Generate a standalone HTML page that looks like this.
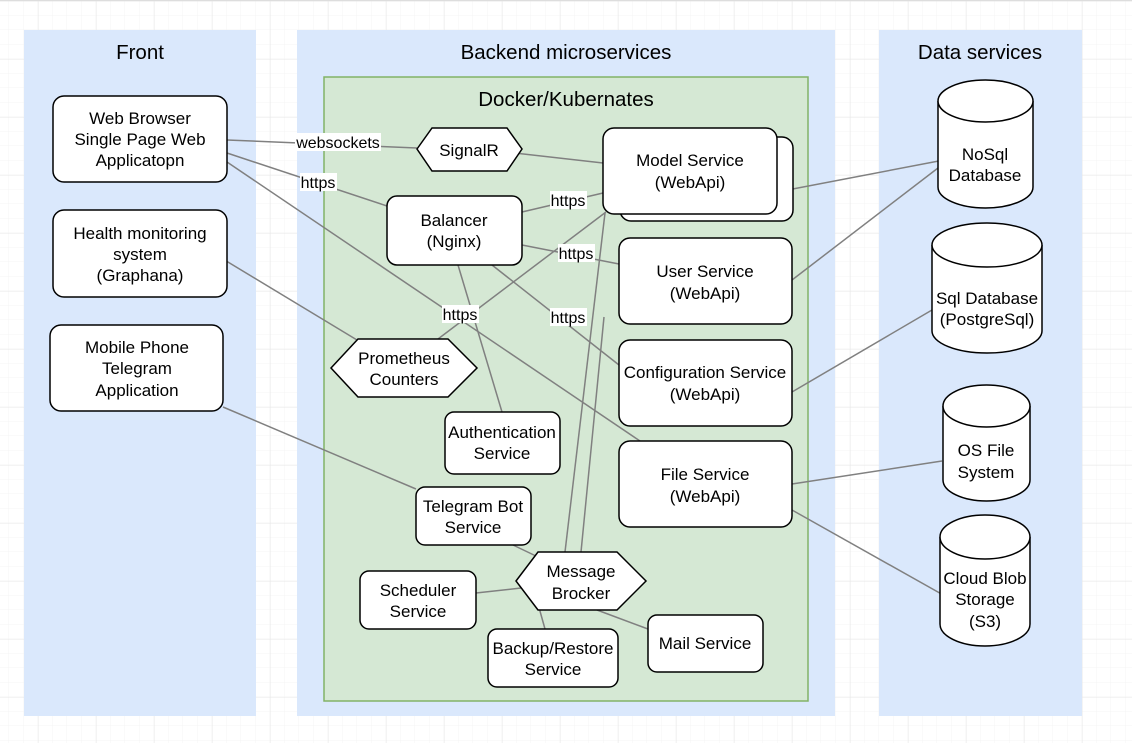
<!DOCTYPE html>
<html><head><meta charset="utf-8"><style>
html,body{margin:0;padding:0;background:#fff;}
svg{display:block;font-family:"Liberation Sans",Arial,sans-serif;}
</style></head><body>
<svg width="1132" height="743" viewBox="0 0 1132 743" xmlns="http://www.w3.org/2000/svg">
<defs>
<pattern id="minor" width="14.5" height="14.5" patternUnits="userSpaceOnUse" x="9" y="1">
<path d="M14.5 0V14.5M0 14.5H14.5" fill="none" stroke="#f4f4f4" stroke-width="1"/>
</pattern>
<pattern id="major" width="58" height="58" patternUnits="userSpaceOnUse" x="38" y="1">
<path d="M0 0V58M0 0H58" fill="none" stroke="#e8e8e8" stroke-width="1"/>
</pattern>
</defs>
<rect width="1132" height="743" fill="url(#minor)"/>
<rect width="1132" height="743" fill="url(#major)"/>
<line x1="0" y1="0.5" x2="1132" y2="0.5" stroke="#ddd"/>

<rect x="24" y="30" width="232" height="686" fill="#dae8fc"/>
<rect x="297" y="30" width="538" height="686" fill="#dae8fc"/>
<rect x="879" y="30" width="203" height="686" fill="#dae8fc"/>
<rect x="324" y="77" width="484" height="624" fill="#d5e8d4" stroke="#82b366" stroke-width="1.5"/>

<g font-size="20.5" fill="#000" text-anchor="middle">
<text x="140" y="59">Front</text>
<text x="566" y="59">Backend microservices</text>
<text x="980" y="59">Data services</text>
<text x="566" y="106">Docker/Kubernates</text>
</g>

<g stroke="#808080" stroke-width="1.5" fill="none">
<line x1="227" y1="140" x2="417" y2="148"/>
<line x1="506" y1="152" x2="603" y2="163"/>
<line x1="227" y1="153" x2="387" y2="206"/>
<line x1="227" y1="162" x2="640" y2="441"/>
<line x1="438" y1="339" x2="606" y2="212"/>
<line x1="522" y1="212" x2="603" y2="193"/>
<line x1="522" y1="245" x2="619" y2="264"/>
<line x1="492" y1="265" x2="619" y2="365"/>
<line x1="458" y1="265" x2="502" y2="412"/>
<line x1="213" y1="253" x2="357" y2="340"/>
<line x1="223" y1="407" x2="416" y2="489"/>
<line x1="513" y1="545" x2="538" y2="557"/>
<line x1="476" y1="593" x2="521" y2="588"/>
<line x1="545" y1="629" x2="538" y2="604"/>
<line x1="597" y1="610" x2="648" y2="629"/>
<line x1="565" y1="552" x2="605" y2="213"/>
<line x1="581" y1="552" x2="604" y2="317"/>
<line x1="777" y1="192" x2="944" y2="160"/>
<line x1="792" y1="280" x2="938" y2="168"/>
<line x1="792" y1="392" x2="932" y2="310"/>
<line x1="792" y1="484" x2="942" y2="461"/>
<line x1="792" y1="510" x2="945" y2="596"/>
</g>

<g font-size="16" text-anchor="middle">
<rect x="295" y="133" width="86" height="18" fill="#fff"/><text x="338" y="148">websockets</text>
<rect x="300" y="173" width="37" height="18" fill="#fff"/><text x="318" y="188">https</text>
<rect x="550" y="191" width="37" height="18" fill="#fff"/><text x="568" y="206">https</text>
<rect x="558" y="244" width="37" height="18" fill="#fff"/><text x="576" y="259">https</text>
<rect x="550" y="308" width="37" height="18" fill="#fff"/><text x="568" y="323">https</text>
<rect x="442" y="305" width="37" height="18" fill="#fff"/><text x="460" y="320">https</text>
</g>

<g fill="#fff" stroke="#000" stroke-width="1.5">
<rect x="53" y="96" width="174" height="86" rx="11"/>
<rect x="53" y="210" width="174" height="87" rx="11"/>
<rect x="50" y="325" width="173" height="86" rx="11"/>
<rect x="387" y="196" width="135" height="69" rx="10"/>
<rect x="620" y="137" width="173" height="84" rx="11"/>
<rect x="603" y="128" width="174" height="86" rx="11"/>
<rect x="619" y="238" width="173" height="86" rx="11"/>
<rect x="619" y="340" width="173" height="86" rx="11"/>
<rect x="619" y="441" width="173" height="86" rx="11"/>
<rect x="445" y="412" width="115" height="62" rx="9"/>
<rect x="416" y="487" width="115" height="58" rx="9"/>
<rect x="360" y="571" width="116" height="58" rx="9"/>
<rect x="488" y="629" width="130" height="58" rx="9"/>
<rect x="648" y="615" width="115" height="57" rx="9"/>
<polygon points="417,149 432,128 507,128 522,149 507,171 432,171"/>
<polygon points="331,368 358,339 448,339 477,368 448,397 358,397"/>
<polygon points="516,581 538,552 617,552 646,581 617,610 538,610"/>
<path d="M938 101 A47.5 21 0 0 1 1033 101 V187 A47.5 21 0 0 1 938 187 Z"/>
<path d="M938 101 A47.5 21 0 0 0 1033 101"/>
<path d="M932 245 A55 22 0 0 1 1042 245 V331 A55 22 0 0 1 932 331 Z"/>
<path d="M932 245 A55 22 0 0 0 1042 245"/>
<path d="M943 406 A43.5 21 0 0 1 1030 406 V480 A43.5 21 0 0 1 943 480 Z"/>
<path d="M943 406 A43.5 21 0 0 0 1030 406"/>
<path d="M940 537 A45 22 0 0 1 1030 537 V624 A45 22 0 0 1 940 624 Z"/>
<path d="M940 537 A45 22 0 0 0 1030 537"/>
</g>

<g font-size="17" text-anchor="middle" fill="#000">
<text x="140" y="124">Web Browser</text><text x="140" y="145">Single Page Web</text><text x="140" y="166">Applicatopn</text>
<text x="140" y="239">Health monitoring</text><text x="140" y="260">system</text><text x="140" y="281">(Graphana)</text>
<text x="137" y="353">Mobile Phone</text><text x="137" y="374">Telegram</text><text x="137" y="396">Application</text>
<text x="454" y="226">Balancer</text><text x="454" y="247">(Nginx)</text>
<text x="690" y="166">Model Service</text><text x="690" y="188">(WebApi)</text>
<text x="705" y="277">User Service</text><text x="705" y="299">(WebApi)</text>
<text x="705" y="378">Configuration Service</text><text x="705" y="400">(WebApi)</text>
<text x="705" y="480">File Service</text><text x="705" y="502">(WebApi)</text>
<text x="502" y="438">Authentication</text><text x="502" y="459">Service</text>
<text x="473" y="512">Telegram Bot</text><text x="473" y="533">Service</text>
<text x="418" y="596">Scheduler</text><text x="418" y="617">Service</text>
<text x="553" y="654">Backup/Restore</text><text x="553" y="675">Service</text>
<text x="705" y="649">Mail Service</text>
<text x="469" y="156">SignalR</text>
<text x="404" y="364">Prometheus</text><text x="404" y="385">Counters</text>
<text x="581" y="577">Message</text><text x="581" y="599">Brocker</text>
<text x="985" y="160">NoSql</text><text x="985" y="181">Database</text>
<text x="987" y="304">Sql Database</text><text x="987" y="325">(PostgreSql)</text>
<text x="986" y="456">OS File</text><text x="986" y="478">System</text>
<text x="985" y="584">Cloud Blob</text><text x="985" y="605">Storage</text><text x="985" y="627">(S3)</text>
</g>
</svg>
</body></html>
